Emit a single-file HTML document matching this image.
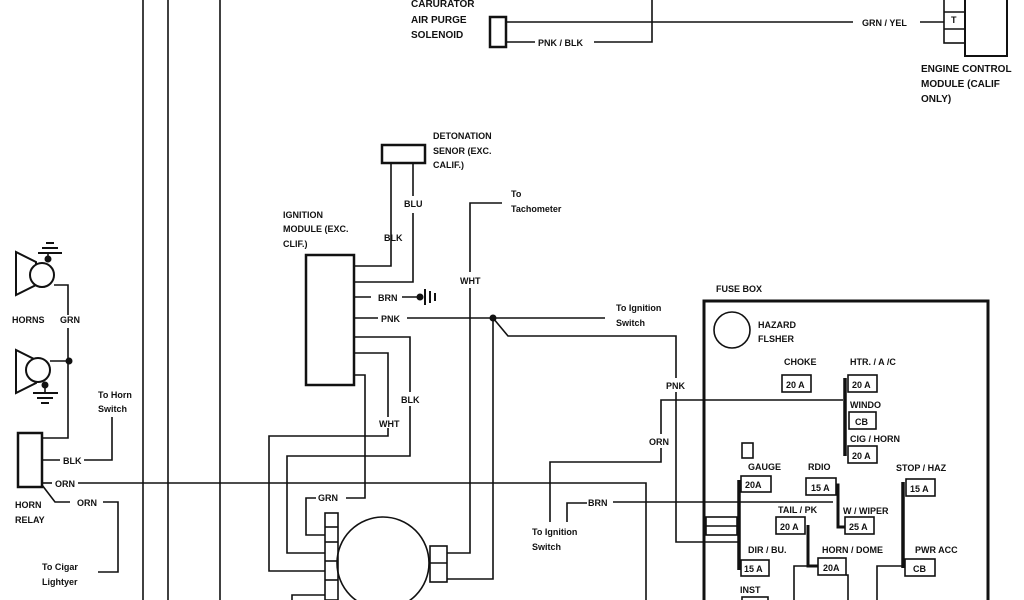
<!DOCTYPE html>
<html><head><meta charset="utf-8"><style>
html,body{margin:0;padding:0;background:#fff;}
svg{display:block;}
text{font-family:"Liberation Sans",sans-serif;font-size:10px;font-weight:bold;fill:#111;}
.s{font-size:9px;}
</style></head><body>
<svg width="1024" height="600" viewBox="0 0 1024 600" xmlns="http://www.w3.org/2000/svg">
<g fill="none" stroke="#111" stroke-width="1.6">
<!-- long verticals -->
<line x1="143" y1="0" x2="143" y2="600"/>
<line x1="168" y1="0" x2="168" y2="600"/>
<line x1="220" y1="0" x2="220" y2="600"/>

<!-- top solenoid -->
<rect x="490" y="17" width="16" height="30" stroke-width="2.5"/>
<polyline points="506,22 853,22"/>
<polyline points="920,22 944,22"/>
<polyline points="506,42 535,42"/>
<polyline points="594,42 652,42 652,0"/>
<!-- ECM -->
<rect x="944" y="-2" width="21" height="45"/>
<line x1="944" y1="12" x2="965" y2="12"/>
<line x1="944" y1="29" x2="965" y2="29"/>
<rect x="965" y="-2" width="42" height="58" stroke-width="2"/>

<!-- detonation sensor -->
<rect x="382" y="145" width="43" height="18" stroke-width="2.5"/>
<polyline points="391,163 391,266 354,266"/>
<polyline points="413,163 413,196"/>
<polyline points="413,213 413,282 354,282"/>
<!-- ignition module -->
<rect x="306" y="255" width="48" height="130" stroke-width="2.5"/>
<polyline points="354,297 371,297"/>
<polyline points="402,297 420,297"/>
<line x1="425" y1="289" x2="425" y2="305" stroke-width="2"/>
<line x1="430" y1="291" x2="430" y2="303" stroke-width="2"/>
<line x1="435" y1="293" x2="435" y2="301" stroke-width="2"/>
<polyline points="354,318 378,318"/>
<polyline points="407,318 605,318"/>
<polyline points="493,318 508,336 676,336 676,378"/>
<polyline points="676,392 676,542 739,542"/>
<polyline points="493,318 493,579 447,579"/>
<polyline points="502,203 470,203 470,272"/>
<polyline points="470,288 470,553 447,553"/>
<polyline points="354,337 410,337 410,392"/>
<polyline points="410,406 410,456 287,456 287,553 325,553"/>
<polyline points="354,353 388,353 388,417"/>
<polyline points="388,428 388,436 269,436 269,571 325,571"/>
<polyline points="354,375 365,375 365,498 346,498"/>
<polyline points="316,498 306,498 306,535 325,535"/>
<polyline points="292,600 292,595 325,595"/>
<!-- distributor -->
<circle cx="383" cy="563" r="46" fill="#fff"/>
<rect x="325" y="513" width="13" height="87" fill="none"/>
<line x1="325" y1="527" x2="338" y2="527"/>
<line x1="325" y1="542" x2="338" y2="542"/>
<line x1="325" y1="561" x2="338" y2="561"/>
<line x1="325" y1="580" x2="338" y2="580"/>
<rect x="430" y="546" width="17" height="36"/>
<line x1="430" y1="563" x2="447" y2="563"/>

<!-- horns -->
<polygon points="16,252 16,295 36,285 36,262" stroke-width="2"/>
<circle cx="42" cy="275" r="12" fill="#fff" stroke-width="2"/>
<line x1="38" y1="253" x2="62" y2="253" stroke-width="2"/>
<line x1="42" y1="248" x2="58" y2="248" stroke-width="2"/>
<line x1="46" y1="243" x2="54" y2="243" stroke-width="2"/>
<line x1="48" y1="253" x2="48" y2="262"/>
<polyline points="54,285 68,285 68,315"/>
<polyline points="68,328 68,438 42,438"/>
<polygon points="16,350 16,393 36,383 36,360" stroke-width="2"/>
<circle cx="38" cy="370" r="12" fill="#fff" stroke-width="2"/>
<polyline points="50,361 68,361"/>
<line x1="33" y1="393" x2="58" y2="393" stroke-width="2"/>
<line x1="37" y1="398" x2="53" y2="398" stroke-width="2"/>
<line x1="41" y1="403" x2="49" y2="403" stroke-width="2"/>
<line x1="45" y1="383" x2="45" y2="393"/>
<!-- horn relay -->
<rect x="18" y="433" width="24" height="54" stroke-width="2.5"/>
<polyline points="42,460 60,460"/>
<polyline points="84,460 112,460 112,417"/>
<polyline points="42,483 52,483"/>
<polyline points="78,483 646,483 646,600"/>
<polyline points="42,485 55,502 70,502"/>
<polyline points="103,502 118,502 118,572 98,572"/>

<!-- ORN / BRN from ign switch -->
<polyline points="550,522 550,462 661,462 661,448"/>
<polyline points="661,434 661,400 843,400"/>
<polyline points="567,522 567,503 587,503"/>
<polyline points="613,502 833,502"/>

<!-- fuse box -->
<rect x="704" y="301" width="284" height="320" stroke-width="3"/>
<circle cx="732" cy="330" r="18"/>
<rect x="782" y="375" width="29" height="17"/>
<rect x="848" y="375" width="29" height="17"/>
<rect x="849" y="412" width="27" height="17"/>
<rect x="848" y="446" width="29" height="17"/>
<line x1="845" y1="378" x2="845" y2="456" stroke-width="3.5"/>
<rect x="742" y="443" width="11" height="15"/>
<rect x="741" y="476" width="30" height="16"/>
<line x1="739" y1="480" x2="739" y2="570" stroke-width="3.5"/>
<rect x="706" y="517" width="31" height="18"/>
<line x1="706" y1="526" x2="737" y2="526"/>
<rect x="806" y="478" width="30" height="17"/>
<polyline points="836,485 838,485 838,527 845,527" stroke-width="3"/>
<rect x="845" y="517" width="29" height="17"/>
<rect x="906" y="479" width="29" height="17"/>
<line x1="903" y1="482" x2="903" y2="568" stroke-width="3.5"/>
<rect x="776" y="517" width="29" height="17"/>
<polyline points="808,525 808,566 818,566" stroke-width="3"/>
<rect x="818" y="558" width="28" height="17"/>
<rect x="741" y="560" width="28" height="16"/>
<rect x="905" y="559" width="30" height="17"/>
<rect x="742" y="597" width="26" height="10"/>
<polyline points="808,566 794,566 794,600"/>
<polyline points="846,575 848,575 848,600"/>
<polyline points="903,566 877,566 877,600"/>
</g>
<g fill="#111">
<circle cx="493" cy="318" r="3.5"/>
<circle cx="69" cy="361" r="3.5"/>
<circle cx="420" cy="297" r="3.5"/>
<circle cx="48" cy="259" r="3.5"/>
<circle cx="45" cy="385" r="3.5"/>
</g>

<text x="411" y="7">CARURATOR</text>
<text x="411" y="23">AIR PURGE</text>
<text x="411" y="38">SOLENOID</text>
<text x="538" y="46" class="s">PNK / BLK</text>
<text x="862" y="26" class="s">GRN / YEL</text>
<text x="951" y="23" class="s">T</text>
<text x="921" y="72">ENGINE CONTROL</text>
<text x="921" y="87">MODULE (CALIF</text>
<text x="921" y="102">ONLY)</text>

<text x="433" y="139" class="s">DETONATION</text>
<text x="433" y="154" class="s">SENOR (EXC.</text>
<text x="433" y="168" class="s">CALIF.)</text>
<text x="404" y="207" class="s">BLU</text>
<text x="384" y="241" class="s">BLK</text>
<text x="283" y="218" class="s">IGNITION</text>
<text x="283" y="232" class="s">MODULE (EXC.</text>
<text x="283" y="247" class="s">CLIF.)</text>
<text x="511" y="197" class="s">To</text>
<text x="511" y="212" class="s">Tachometer</text>
<text x="460" y="284" class="s">WHT</text>
<text x="378" y="301" class="s">BRN</text>
<text x="381" y="322" class="s">PNK</text>
<text x="616" y="311" class="s">To Ignition</text>
<text x="616" y="326" class="s">Switch</text>
<text x="401" y="403" class="s">BLK</text>
<text x="379" y="427" class="s">WHT</text>
<text x="318" y="501" class="s">GRN</text>
<text x="666" y="389" class="s">PNK</text>
<text x="649" y="445" class="s">ORN</text>
<text x="588" y="506" class="s">BRN</text>
<text x="532" y="535" class="s">To Ignition</text>
<text x="532" y="550" class="s">Switch</text>

<text x="12" y="323" class="s">HORNS</text>
<text x="60" y="323" class="s">GRN</text>
<text x="98" y="398" class="s">To Horn</text>
<text x="98" y="412" class="s">Switch</text>
<text x="63" y="464" class="s">BLK</text>
<text x="55" y="487" class="s">ORN</text>
<text x="77" y="506" class="s">ORN</text>
<text x="15" y="508" class="s">HORN</text>
<text x="15" y="523" class="s">RELAY</text>
<text x="42" y="570" class="s">To Cigar</text>
<text x="42" y="585" class="s">Lightyer</text>

<text x="716" y="292" class="s">FUSE BOX</text>
<text x="758" y="328" class="s">HAZARD</text>
<text x="758" y="342" class="s">FLSHER</text>
<text x="784" y="365" class="s">CHOKE</text>
<text x="850" y="365" class="s">HTR. / A /C</text>
<text x="786" y="388" class="s">20 A</text>
<text x="852" y="388" class="s">20 A</text>
<text x="850" y="408" class="s">WINDO</text>
<text x="855" y="425" class="s">CB</text>
<text x="850" y="442" class="s">CIG / HORN</text>
<text x="852" y="459" class="s">20 A</text>
<text x="748" y="470" class="s">GAUGE</text>
<text x="808" y="470" class="s">RDIO</text>
<text x="896" y="471" class="s">STOP / HAZ</text>
<text x="745" y="488" class="s">20A</text>
<text x="811" y="491" class="s">15 A</text>
<text x="910" y="492" class="s">15 A</text>
<text x="778" y="513" class="s">TAIL / PK</text>
<text x="843" y="514" class="s">W / WIPER</text>
<text x="780" y="530" class="s">20 A</text>
<text x="849" y="530" class="s">25 A</text>
<text x="748" y="553" class="s">DIR / BU.</text>
<text x="822" y="553" class="s">HORN / DOME</text>
<text x="915" y="553" class="s">PWR ACC</text>
<text x="744" y="572" class="s">15 A</text>
<text x="823" y="571" class="s">20A</text>
<text x="913" y="572" class="s">CB</text>
<text x="740" y="593" class="s">INST</text>
</svg>
</body></html>
